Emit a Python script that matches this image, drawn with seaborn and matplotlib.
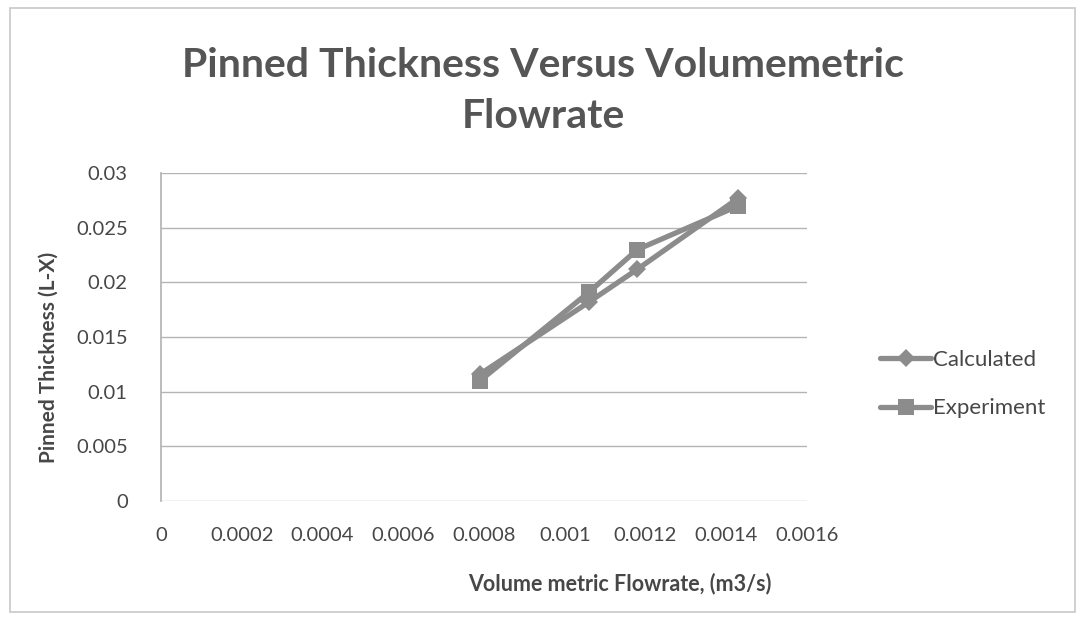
import matplotlib
matplotlib.use("Agg")
import matplotlib.pyplot as plt
import seaborn as sns
import pandas as pd
from matplotlib.patches import Rectangle
from matplotlib.lines import Line2D

flow = [0.00079, 0.00106, 0.00118, 0.00143]
calculated = [0.0116, 0.0182, 0.0212, 0.0277]
experiment = [0.0110, 0.0191, 0.0230, 0.0270]
series = ["Calculated", "Experiment"]
yticks = [0, 0.005, 0.01, 0.015, 0.02, 0.025, 0.03]
ytick_labels = ["0", "0.005", "0.01", "0.015", "0.02", "0.025", "0.03"]
xticks = [0, 0.0002, 0.0004, 0.0006, 0.0008, 0.001, 0.0012, 0.0014, 0.0016]
xtick_labels = ["0", "0.0002", "0.0004", "0.0006", "0.0008", "0.001", "0.0012", "0.0014", "0.0016"]

df = pd.DataFrame({
    "x": flow * 2,
    "y": calculated + experiment,
    "series": [series[0]] * len(flow) + [series[1]] * len(flow),
})

sns.set_theme(style="white")
plt.rcParams["font.family"] = ["Lato", "DejaVu Sans"]

txt = "#474747"
fig = plt.figure(figsize=(10.78, 6.19), dpi=100)
fig.patches.append(Rectangle((10 / 1078, 1 - 612 / 619), 1065 / 1078, 604 / 619,
                             transform=fig.transFigure, fill=False,
                             edgecolor="#c8c8c8", linewidth=1.2))
ax = fig.add_axes([161 / 1078, 1 - 501 / 619, 646 / 1078, 328 / 619])

grey = "#8c8c8c"
sns.lineplot(data=df, x="x", y="y", hue="series", style="series",
             markers={"Calculated": "D", "Experiment": "s"}, dashes=False,
             palette={"Calculated": grey, "Experiment": grey},
             markersize=12, linewidth=3.8, markeredgewidth=0, ax=ax, legend=False)
ax.lines[0].set_markersize(9)

ax.set_xlim(0, 0.0016)
ax.set_ylim(0, 0.03)
ax.set_yticks(yticks)
ax.set_yticklabels(ytick_labels)
ax.set_xticks(xticks)
ax.set_xticklabels(xtick_labels)
ax.tick_params(axis="both", labelsize=14.5, labelcolor=txt, length=0)
ax.tick_params(axis="x", pad=19)
ax.tick_params(axis="y", pad=24)
ax.grid(axis="y", color="#b4b4b4", linewidth=1)
ax.set_axisbelow(True)
for s in ["top", "right", "bottom"]:
    ax.spines[s].set_visible(False)
ax.spines["left"].set_color("#b4b4b4")
ax.set_xlabel("")
ax.set_ylabel("")

fig.text(620 / 1078, 1 - 584 / 619, "Volume metric Flowrate, (m3/s)", ha="center", va="center",
         fontsize=15.5, fontweight="bold", color=txt)
fig.text(49 / 1078, 1 - 357 / 619, "Pinned Thickness (L-X)", ha="center", va="center",
         rotation=90, fontsize=15, fontweight="bold", color=txt)

fig.text(543 / 1078, 1 - 91 / 619, "Pinned Thickness Versus Volumemetric\nFlowrate",
         ha="center", va="center", fontsize=29.5, fontweight="bold",
         color="#555555", linespacing=1.45)

handles = [Line2D([], [], color=grey, marker="D", markersize=9, linewidth=3.8, markeredgewidth=0),
           Line2D([], [], color=grey, marker="s", markersize=12, linewidth=3.8, markeredgewidth=0)]
leg = fig.legend(handles, series, loc="center left", bbox_to_anchor=(880 / 1078, 1 - 384 / 619),
                 frameon=False, fontsize=16, handlelength=2.3, handletextpad=0.1,
                 labelspacing=1.3, borderaxespad=0, borderpad=0)
for t in leg.get_texts():
    t.set_color(txt)

fig.savefig("out.png", dpi=100)
